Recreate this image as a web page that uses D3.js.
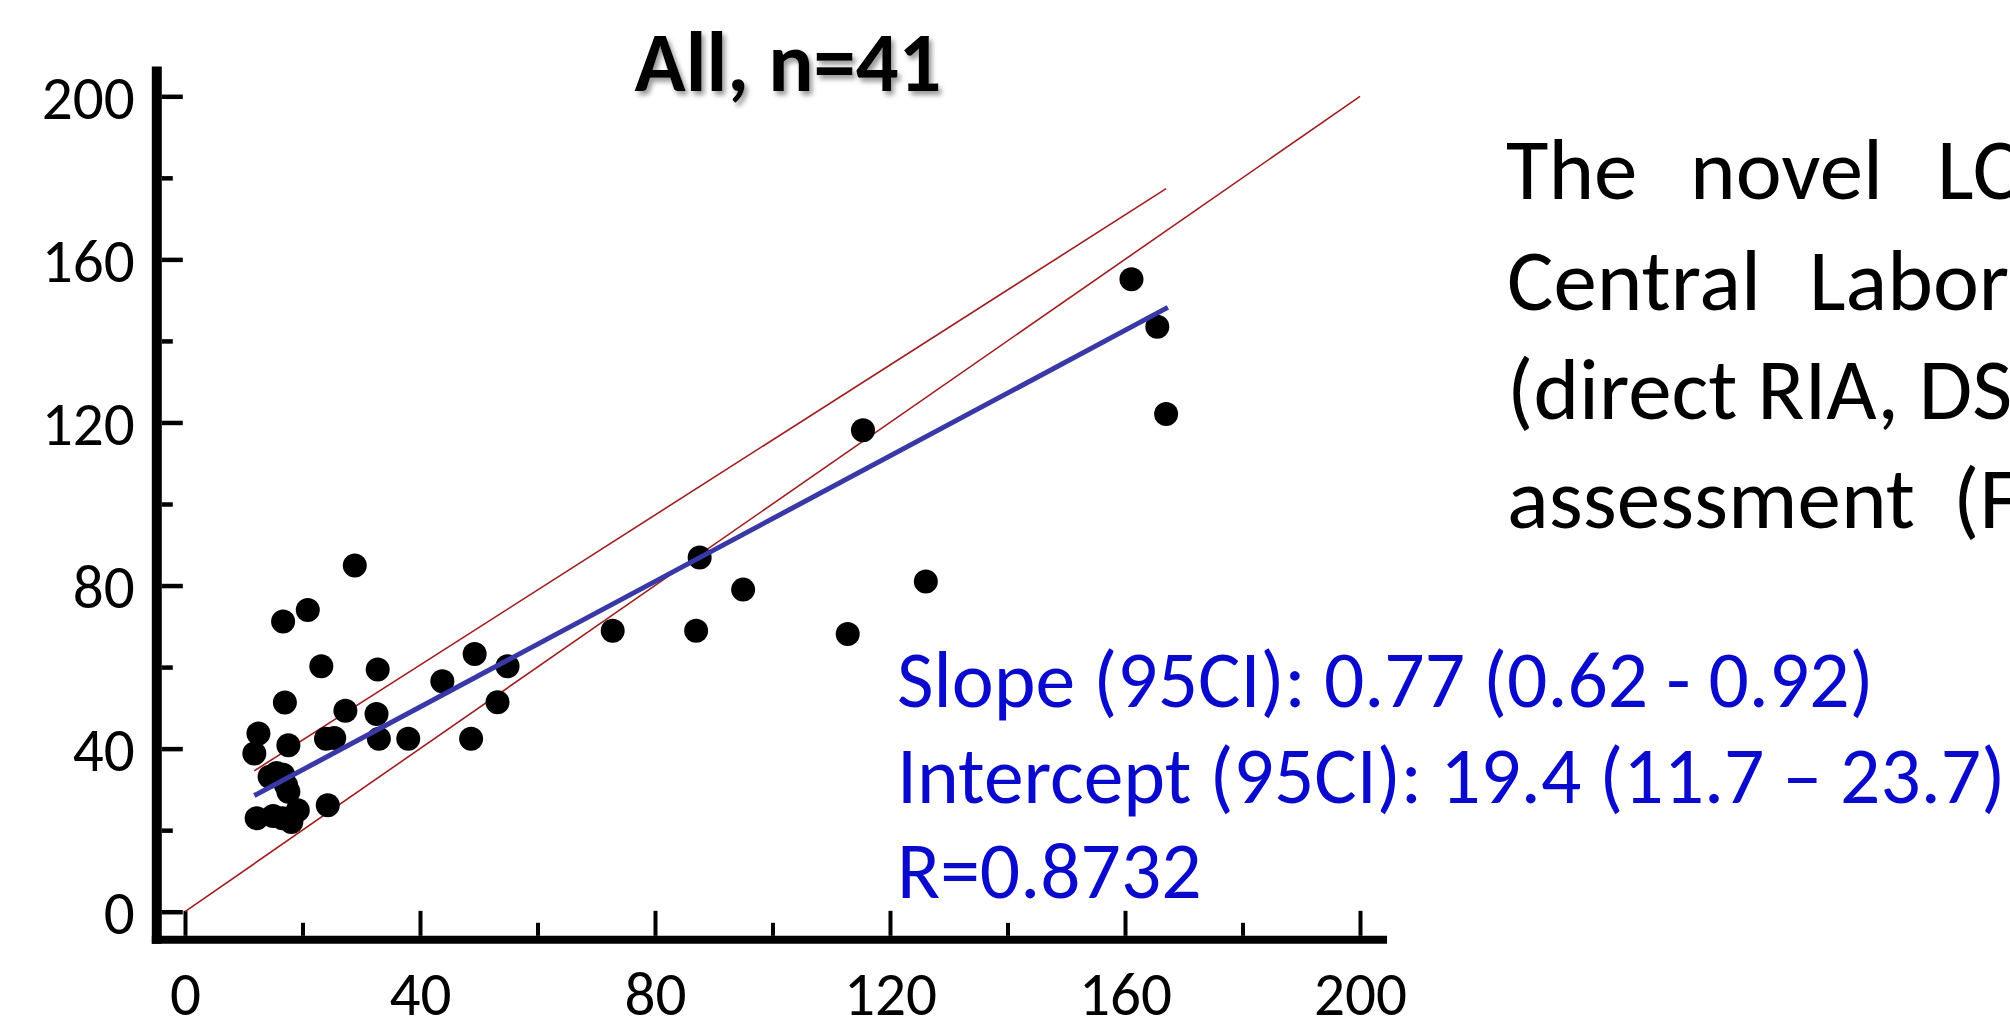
<!DOCTYPE html>
<html>
<head>
<meta charset="utf-8">
<script src="https://cdn.jsdelivr.net/npm/d3@7"></script>
<style>
  html, body { margin: 0; padding: 0; background: #fff; overflow: hidden; }
  svg { display: block; }
</style>
</head>
<body>
<svg id="chart" width="2010" height="1033"></svg>
<script>
// ---------------- data ----------------
const xValues = [11.8, 12.5, 12.2, 14.4, 16.7, 17.6, 16.6, 18.1, 19.2, 17.6,
                 17.0, 16.7, 20.9, 23.2, 24.0, 25.4, 24.3, 27.3, 28.9, 32.8,
                 32.6, 33.0, 38.0, 43.8, 49.3, 48.7, 53.2, 54.9, 72.8, 87.0,
                 87.6, 95.0, 112.8, 115.4, 126.1, 161.1, 165.5, 167.0, 15.6, 17.2, 15.0];
const yValues = [38.8, 43.7, 22.9, 33.1, 33.6, 29.4, 22.9, 22.0, 24.9, 40.8,
                 51.3, 71.2, 74.0, 60.2, 42.4, 42.6, 26.1, 49.3, 84.9, 59.4,
                 48.5, 42.4, 42.4, 56.5, 63.2, 42.4, 51.4, 60.2, 68.9, 68.9,
                 86.9, 79.0, 68.1, 118.1, 81.0, 155.1, 143.5, 122.1, 34.0, 31.0, 23.5];
const majorTicks = [0, 40, 80, 120, 160, 200];
const minorTicks = [20, 60, 100, 140, 180];
const fitSlope = 0.77, fitIntercept = 19.4;
const upperSlope = 0.92, upperIntercept = 23.7;
const titleText = "All, n=41";
const statLines = ["Slope (95CI): 0.77 (0.62 - 0.92)",
                   "Intercept (95CI): 19.4 (11.7 \u2013 23.7)",
                   "R=0.8732"];
const sideLine1 = ["The", "novel", "LC"];
const sideLine2 = ["Central", "Labor"];
const sideLine3 = ["(direct RIA, DS"];
const sideLine4 = ["assessment", "(F"];

// ---------------- layout ----------------
const FONT = "Carlito, Calibri, Lato, 'Open Sans', sans-serif";
const svg = d3.select("#chart");
svg.append("rect").attr("width", 2010).attr("height", 1033).attr("fill", "#fff");

const x = d3.scaleLinear().domain([0, 200]).range([185, 1360]);
const y = d3.scaleLinear().domain([0, 200]).range([911.7, 96.3]);

function fitWidth(sel, target) {
  const w = sel.node().getComputedTextLength();
  const fs = parseFloat(sel.attr("font-size"));
  const nfs = fs * target / w;
  sel.attr("font-size", nfs);
  return nfs;
}

const defs = svg.append("defs");
const sh = defs.append("filter").attr("id", "shadow")
  .attr("x", "-10%").attr("y", "-20%").attr("width", "130%").attr("height", "160%");
sh.append("feDropShadow").attr("dx", 3).attr("dy", 4).attr("stdDeviation", 2.5)
  .attr("flood-color", "#777").attr("flood-opacity", 0.75);

// axis lines (offset frame)
const axisX0 = x(-4.8);   // y-axis line position
const axisY0 = y(-6.9);   // x-axis line position
svg.append("line")
  .attr("x1", axisX0).attr("x2", axisX0)
  .attr("y1", y(207.3)).attr("y2", axisY0 + 4)
  .attr("stroke", "#000").attr("stroke-width", 10);
svg.append("line")
  .attr("x1", axisX0 - 5).attr("x2", x(204.6))
  .attr("y1", axisY0).attr("y2", axisY0)
  .attr("stroke", "#000").attr("stroke-width", 8);

// x axis ticks (upward) + labels
const gx = svg.append("g").attr("transform", `translate(0,${axisY0 - 4})`);
gx.call(d3.axisBottom(x).tickValues(majorTicks).tickSizeInner(-25).tickSizeOuter(0)
  .tickPadding(40).tickFormat(d3.format("d")));
gx.select(".domain").remove();
gx.selectAll(".tick line").attr("stroke", "#000").attr("stroke-width", 4);
const gxm = svg.append("g").attr("transform", `translate(0,${axisY0 - 4})`);
gxm.call(d3.axisBottom(x).tickValues(minorTicks).tickSizeInner(-13).tickSizeOuter(0).tickFormat(""));
gxm.select(".domain").remove();
gxm.selectAll(".tick line").attr("stroke", "#000").attr("stroke-width", 4);

// y axis ticks (rightward) + labels
const gy = svg.append("g").attr("transform", `translate(${axisX0 + 5},0)`);
gy.call(d3.axisLeft(y).tickValues(majorTicks).tickSizeInner(-21).tickSizeOuter(0)
  .tickPadding(27).tickFormat(d3.format("d")));
gy.select(".domain").remove();
gy.selectAll(".tick line").attr("stroke", "#000").attr("stroke-width", 4.5);
const gym = svg.append("g").attr("transform", `translate(${axisX0 + 5},0)`);
gym.call(d3.axisLeft(y).tickValues(minorTicks).tickSizeInner(-11).tickSizeOuter(0).tickFormat(""));
gym.select(".domain").remove();
gym.selectAll(".tick line").attr("stroke", "#000").attr("stroke-width", 4.5);

// tick label font fitted so "200" is ~93px wide
const allLabels = svg.selectAll(".tick text")
  .attr("font-family", FONT).attr("fill", "#000").attr("font-size", 60);
const ref = gy.selectAll(".tick text").filter(d => d === 200);
const tfs = fitWidth(ref, 93);
allLabels.attr("font-size", tfs);
gx.selectAll(".tick text").attr("dy", null).attr("y", 1015 - (axisY0 - 4));
gy.selectAll(".tick text").attr("dy", "0.36em");

// reference lines
svg.append("line")
  .attr("x1", x(0)).attr("y1", y(0)).attr("x2", x(200)).attr("y2", y(200))
  .attr("stroke", "#9e1e1e").attr("stroke-width", 1.6);

const xMin = d3.min(xValues), xMax = d3.max(xValues);
svg.append("line")
  .attr("x1", x(xMin)).attr("y1", y(upperIntercept + upperSlope * xMin))
  .attr("x2", x(xMax)).attr("y2", y(upperIntercept + upperSlope * xMax))
  .attr("stroke", "#9e1e1e").attr("stroke-width", 1.6);

// points
svg.append("g").selectAll("circle")
  .data(xValues.map((v, i) => [v, yValues[i]]))
  .join("circle")
  .attr("cx", d => x(d[0])).attr("cy", d => y(d[1]))
  .attr("r", 12).attr("fill", "#000");

// regression line
svg.append("line")
  .attr("x1", x(xMin)).attr("y1", y(fitIntercept + fitSlope * xMin))
  .attr("x2", x(xMax + 0.3)).attr("y2", y(fitIntercept + fitSlope * (xMax + 0.3)))
  .attr("stroke", "#3838a6").attr("stroke-width", 5);

// title
const title = svg.append("text")
  .attr("x", 788).attr("y", 91).attr("text-anchor", "middle")
  .attr("font-family", FONT).attr("font-weight", "bold").attr("font-size", 80)
  .attr("fill", "#000").attr("filter", "url(#shadow)")
  .text(titleText);
fitWidth(title, 307);

// stats text
const statBase = [707, 803, 898];
const stats = svg.append("g");
const s0 = stats.append("text").attr("x", 897).attr("y", statBase[0])
  .attr("font-family", FONT).attr("font-size", 72).attr("fill", "#0a0acc").text(statLines[0]);
const sfs = fitWidth(s0, 977);
statLines.slice(1).forEach((t, i) => {
  stats.append("text").attr("x", 897).attr("y", statBase[i + 1])
    .attr("font-family", FONT).attr("font-size", sfs).attr("fill", "#0a0acc").text(t);
});

// side paragraph (justified, clipped at page edge like the source slide)
const side = svg.append("g").attr("font-family", FONT).attr("fill", "#000");
const probe = side.append("text").attr("x", 1507).attr("y", 310)
  .attr("font-size", 80).text(sideLine2[0]);
const pfs = fitWidth(probe, 254);
probe.remove();
function placeWords(words, xs, baseline) {
  words.forEach((w, i) => side.append("text").attr("x", xs[i]).attr("y", baseline)
    .attr("font-size", pfs).text(w));
}
placeWords(sideLine1, [1506, 1690, 1937], 199);
placeWords(sideLine2, [1507, 1809], 310);
placeWords(sideLine3, [1507], 419);
placeWords(sideLine4, [1507, 1953], 528);
</script>
</body>
</html>
